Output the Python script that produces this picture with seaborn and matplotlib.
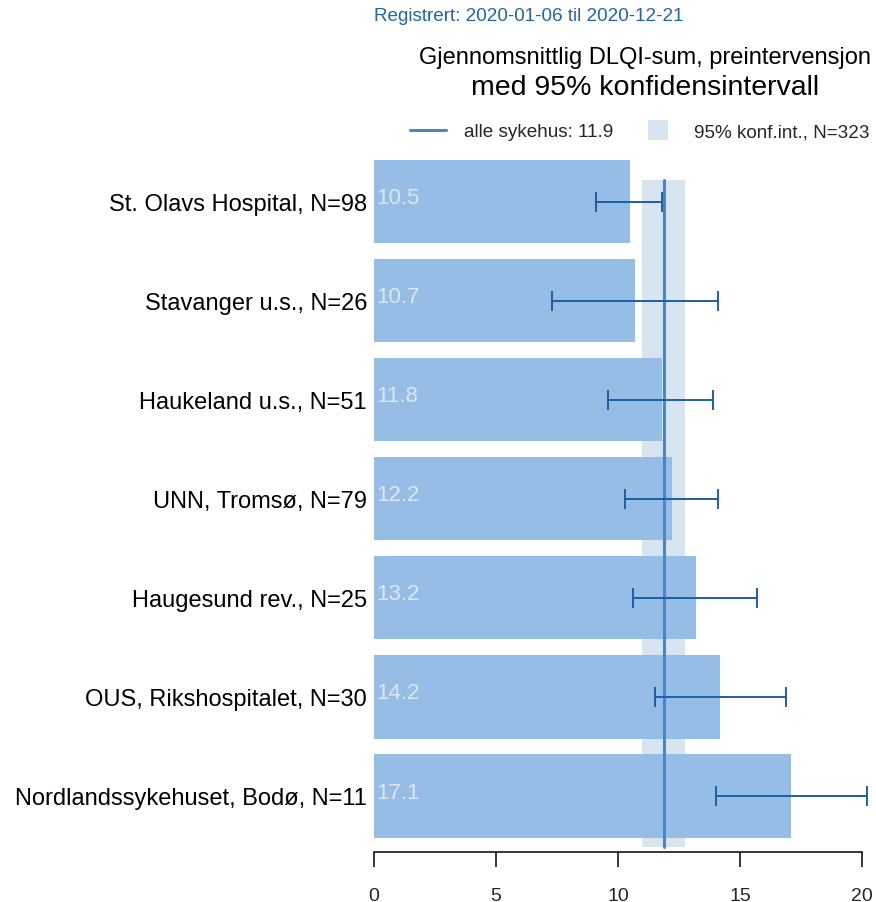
import matplotlib
matplotlib.use("Agg")
import matplotlib.pyplot as plt
from matplotlib.lines import Line2D
import seaborn as sns
import pandas as pd

# Hospital data: mean DLQI sum before intervention with 95% CI
hospitals = [
    "St. Olavs Hospital, N=98",
    "Stavanger u.s., N=26",
    "Haukeland u.s., N=51",
    "UNN, Tromsø, N=79",
    "Haugesund rev., N=25",
    "OUS, Rikshospitalet, N=30",
    "Nordlandssykehuset, Bodø, N=11",
]
means = [10.5, 10.7, 11.8, 12.2, 13.2, 14.2, 17.1]
ci_low = [9.1, 7.3, 9.6, 10.3, 10.6, 11.5, 14.0]
ci_high = [11.8, 14.1, 13.9, 14.1, 15.7, 16.9, 20.2]

overall_mean = 11.9
overall_ci = (11.0, 12.75)
overall_n = 323
x_ticks = [0, 5, 10, 15, 20]

BAR = "#95bde6"
BAND = "#d9e4f1"
LINE = "#4a86c4"
ERR = "#1c5fa8"
VALTXT = "#dde7f2"
BLUE_TXT = "#2065ad"

sns.set_theme(style="white")
plt.rcParams["font.family"] = ["Liberation Sans", "DejaVu Sans"]

df = pd.DataFrame({"hospital": hospitals, "mean": means})

fig = plt.figure(figsize=(8.76, 9.03), dpi=100)
ax = fig.add_axes([0.4269, 0.0554, 0.5571, 0.7752])

# Overall confidence band and mean line
ax.axvspan(overall_ci[0], overall_ci[1], ymin=0.007, ymax=0.96,
           color=BAND, lw=0, zorder=0)
ax.axvline(overall_mean, ymin=0.007, ymax=0.96, color=LINE, lw=2.2, zorder=3)

sns.barplot(data=df, x="mean", y="hospital", orient="h", color=BAR,
            saturation=1, width=0.84, linewidth=0, edgecolor=BAR,
            ax=ax, zorder=2)
for p in ax.patches:
    p.set_zorder(2)
    p.set_linewidth(0)

ypos = list(range(len(hospitals)))
xerr = [[m - lo for m, lo in zip(means, ci_low)],
        [hi - m for m, hi in zip(means, ci_high)]]
eb = ax.errorbar(means, ypos, xerr=xerr, fmt="none", ecolor=ERR,
                 elinewidth=1.4, capsize=7.5, capthick=1.4, zorder=4)
for artist in eb.lines[1] + eb.lines[2]:
    artist.set_clip_on(False)

for y, m in zip(ypos, means):
    ax.text(0.08, y - 0.04, f"{m:.1f}", color=VALTXT, fontsize=16,
            ha="left", va="center", zorder=5)

ax.set_xlim(0, 20)
ax.set_ylim(6.565, -0.5)
ax.set_xticks(x_ticks)
ax.set_xticklabels([str(t) for t in x_ticks])
ax.set_xlabel("")
ax.set_ylabel("")
for s in ["top", "right", "left"]:
    ax.spines[s].set_visible(False)
ax.spines["bottom"].set_color("black")
ax.spines["bottom"].set_linewidth(1.1)
ax.tick_params(axis="x", direction="out", length=11, width=1.1,
               color="black", labelsize=14, pad=14, bottom=True)
ax.tick_params(axis="y", length=0, pad=5, labelsize=17, labelcolor="black")

# Titles
fig.text(0.4269, 0.982, "Registrert: 2020-01-06 til 2020-12-21",
         color=BLUE_TXT, fontsize=13.6, ha="left", va="center")
fig.text(0.7363, 0.9355, "Gjennomsnittlig DLQI-sum, preintervensjon",
         color="black", fontsize=17, ha="center", va="center")
fig.text(0.7363, 0.9025, "med 95% konfidensintervall",
         color="black", fontsize=20.5, ha="center", va="center")

handles = [
    Line2D([], [], color=LINE, lw=2.2),
    Line2D([], [], marker="s", markersize=14, linestyle="none",
           color=BAND, markeredgewidth=0),
]
labels = [f"alle sykehus: {overall_mean}", f"95% konf.int., N={overall_n}"]
ax.legend(handles, labels, loc="center", bbox_to_anchor=(0.5445, 1.029),
          ncol=2, frameon=False, fontsize=13.6, handlelength=1.9,
          handletextpad=0.95, columnspacing=1.45, borderaxespad=0)

fig.savefig("out.png", dpi=100)
